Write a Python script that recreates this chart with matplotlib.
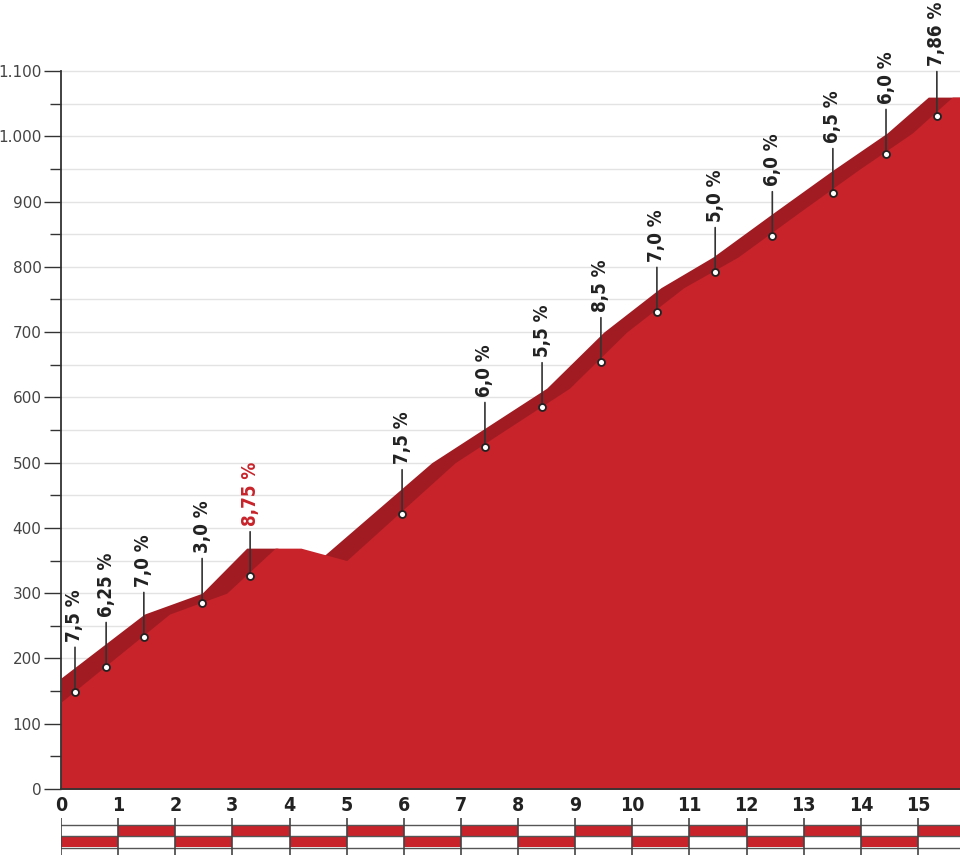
import numpy as np
import matplotlib.pyplot as plt
from matplotlib.ticker import FuncFormatter

# upper edge of the profile (dark band) and the front face
top_km = [0, 1.46, 2.47, 3.25, 3.78, 4.57, 6.49, 8.5, 9.5, 10.5, 11.41, 12.46, 13.51, 14.46, 15.18, 15.74]
top_elev = [170, 268, 300, 369, 369, 355, 500, 614, 700, 768, 815, 882, 948, 1005, 1060, 1060]
face_km = [0, 1.9, 2.9, 3.75, 4.2, 5.0, 6.9, 8.9, 9.9, 10.9, 11.85, 12.9, 13.95, 14.9, 15.6, 15.74]
face_elev = [133, 268, 300, 369, 369, 350, 500, 614, 700, 768, 815, 882, 948, 1005, 1060, 1060]

# gradient markers
grad_km = [0.245, 0.79, 1.45, 2.47, 3.31, 5.97, 7.42, 8.42, 9.45, 10.43, 11.45, 12.45, 13.51, 14.44, 15.33]
grad_elev = [149, 187, 233, 285, 326, 421, 524, 585, 654, 731, 792, 847, 913, 973, 1031]
grad_labels = ['7,5 %', '6,25 %', '7,0 %', '3,0 %', '8,75 %', '7,5 %', '6,0 %', '5,5 %',
               '8,5 %', '7,0 %', '5,0 %', '6,0 %', '6,5 %', '6,0 %', '7,86 %']
grad_max = 4  # index of the steepest one, drawn in red

km_ticks = list(range(0, 16))
elev_ticks = list(range(0, 1101, 100))

RED = '#c8232a'
DARK = '#a01c22'
TXT = '#222222'

W, H = 960, 855
fig = plt.figure(figsize=(W / 100, H / 100), dpi=100)
ax = fig.add_axes([61 / W, (H - 789) / H, 899 / W, 789 / H])
xmax = 15.735
ax.set_xlim(0, xmax)
ax.set_ylim(0, 1100 * 789 / 718)

for y in range(50, 1101, 50):
	ax.axhline(y, color='#e3e3e3', lw=1, zorder=0)

ax.fill_between(top_km, top_elev, 0, color=DARK, lw=0, zorder=1)
ax.fill_between(face_km, face_elev, 0, color=RED, lw=0, zorder=2)

for i, (x, y, lab) in enumerate(zip(grad_km, grad_elev, grad_labels)):
	c = RED if i == grad_max else TXT
	ax.annotate(lab, xy=(x, y), xytext=(0, 36), textcoords='offset points',
		rotation=90, ha='center', va='bottom', fontsize=13.5, fontweight='bold',
		family='DejaVu Sans', fontstretch='condensed', color=c, zorder=5,
		arrowprops=dict(arrowstyle='-', color='#333333', lw=1.2, shrinkA=2, shrinkB=0, relpos=(0.5, 0)))
ax.plot(grad_km, grad_elev, 'o', ms=5, mfc='white', mec='#222222', mew=1.3, zorder=6)

for s in ['top', 'right']:
	ax.spines[s].set_visible(False)
ax.spines['left'].set_color('#333333')
ax.spines['bottom'].set_color('#333333')
ax.spines['left'].set_linewidth(1.3)
ax.spines['bottom'].set_linewidth(1.3)
ax.spines['left'].set_bounds(0, 1100)
ax.spines['left'].set_zorder(7)

ax.set_yticks(elev_ticks)
ax.yaxis.set_major_formatter(FuncFormatter(lambda v, p: f'{int(v):,}'.replace(',', '.')))
ax.tick_params(axis='y', which='major', length=12, width=1, color='#333333', labelsize=11, labelcolor='#444444', pad=2)
ax.tick_params(axis='y', which='minor', length=8, width=1, color='#333333')
ax.set_yticks([y for y in range(50, 1101, 100)], minor=True)

ax.set_xticks(km_ticks)
ax.tick_params(axis='x', length=0, pad=5, labelsize=14, labelcolor=TXT)
for t in ax.get_xticklabels():
	t.set_fontweight('bold')
	t.set_fontstretch('condensed')

# km strip under the chart
sx = fig.add_axes([61 / W, 0, 899 / W, 37 / H])
sx.set_xlim(0, xmax)
sx.set_ylim(37, 0)
sx.axis('off')
edges = km_ticks + [xmax]
for i in range(len(edges) - 1):
	x0, x1 = edges[i], edges[i + 1]
	row_top = 7 if i % 2 == 1 else 18
	sx.fill_between([x0, x1], row_top, row_top + 11, color=RED, lw=0)
for yl in [7, 18, 30]:
	sx.plot([0, xmax], [yl, yl], color='#555555', lw=1)
for k in km_ticks:
	sx.plot([k, k], [0, 37], color='#444444', lw=1.2)

fig.savefig('out.png', dpi=100)
